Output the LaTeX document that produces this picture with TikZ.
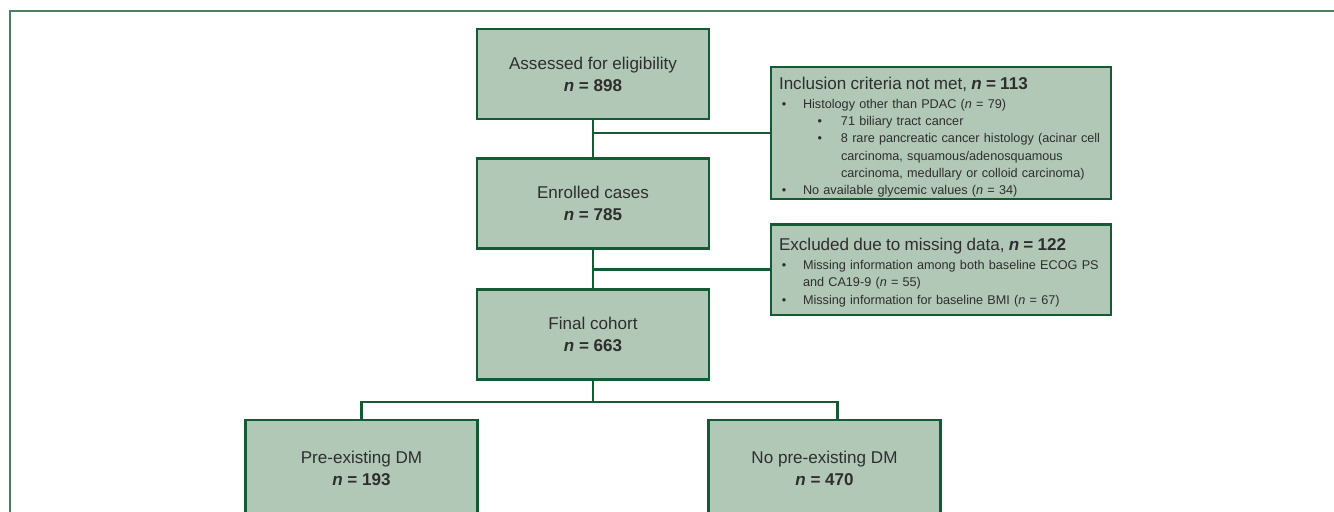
\documentclass[tikz,border=0pt]{standalone}
\usepackage{fontspec}
\setmainfont{Liberation Sans}
\usetikzlibrary{calc}

\definecolor{box edge}{HTML}{145A32}
\definecolor{box area}{HTML}{B1C8B7}
\definecolor{frame edge}{HTML}{4A8060}
\definecolor{ink}{HTML}{2E2E2E}

\newcommand{\nn}[1]{\textbf{\textit{n}~=~#1}}
\newcommand{\sidetitle}[1]{{\fontsize{12.8}{15}\selectfont #1\par}\vspace{1.5pt}}
\newcommand{\lvla}[1]{\par\hangindent=18pt\hangafter=1\noindent\makebox[18pt][l]{\hspace{2.2pt}\textbullet}#1}
\newcommand{\lvlb}[1]{\par\hangindent=46.5pt\hangafter=1\noindent\hspace{29pt}\makebox[17.5pt][l]{\textbullet}#1}

\def\mainboxes{{(593,74)/assess/Assessed for eligibility/898/mainbox}, {(593,203.5)/enrol/Enrolled cases/785/mainbox}, {(593,334.5)/final/Final cohort/663/mainbox}, {(361.5,468)/pre/Pre-existing DM/193/lowbox}, {(824.5,468)/npre/No pre-existing DM/470/lowbox}}
\def\spine{assess/enrol, enrol/final}

\tikzstyle{mainbox}=[draw=box edge, fill=box area, line width=2pt, text=ink, minimum width=174pt, minimum height=67.5pt, align=center, font=\fontsize{12.8}{16.5}\selectfont]
\tikzstyle{lowbox}=[mainbox, minimum height=72pt]
\tikzstyle{sidebox}=[draw=box edge, fill=box area, line width=2pt, text=ink, minimum width=255pt, text width=243pt, inner sep=6pt, font=\fontsize{9.5}{12.9}\selectfont]
\tikzstyle{link}=[draw=box edge, line width=1.6pt]
\tikzstyle{frame}=[draw=frame edge, line width=1.2pt]

\begin{document}
\begin{tikzpicture}[x=0.75pt, y=-0.75pt]
  \useasboundingbox (0,0) rectangle (1334,511);

  % the outer frame
  \coordinate (fl) at (10,520);
  \coordinate (fc) at (10,11);
  \coordinate (fr) at (1340,11);
  \path[frame] (fl) -- (fc) -- (fr);

  % the main boxes
  \foreach \pos/\name/\txt/\num/\sty in \mainboxes {
    \node[\sty] (\name) at \pos {\txt\\\nn{\num}};
  }

  % the side boxes
  \node[sidebox, minimum height=99pt] (incl) at (941,133) {\raggedright\sidetitle{Inclusion criteria not met, \nn{113}}%
    \lvla{Histology other than PDAC (\textit{n} = 79)}
    \lvlb{71 biliary tract cancer}
    \lvlb{8 rare pancreatic cancer histology (acinar cell\newline carcinoma, squamous/adenosquamous\newline carcinoma, medullary or colloid carcinoma)}
    \lvla{No available glycemic values (\textit{n} = 34)}\par\vspace{-6pt}};
  \node[sidebox, minimum height=68pt] (excl) at (941,269.5) {\raggedright\sidetitle{Excluded due to missing data, \nn{122}}%
    \lvla{Missing information among both baseline ECOG PS\newline and CA19-9 (\textit{n} = 55)}
    \lvla{Missing information for baseline BMI (\textit{n} = 67)}\par\vspace{-4.5pt}};

  % the connections between them
  \foreach \source/\sink in \spine
    \path[link] (\source) -- (\sink);
  \path[link] (incl.west) -- (incl.west -| assess.south);
  \path[link] (excl.west) -- (excl.west -| enrol.south);

  % the split into two groups
  \coordinate (split) at ($(final.south)+(0,21)$);
  \coordinate (npre-in) at ($(npre.north)+(13,0)$);
  \path[link] (final.south) -- (split);
  \path[link] (split) -| (pre.north);
  \path[link] (split) -| (npre-in);
\end{tikzpicture}
\end{document}
